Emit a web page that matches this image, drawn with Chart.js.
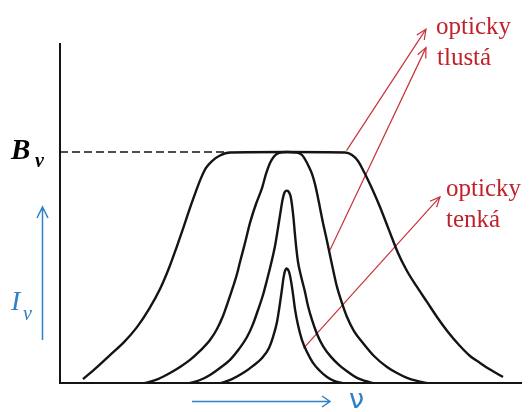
<!DOCTYPE html>
<html>
<head>
<meta charset="utf-8">
<script src="https://cdn.jsdelivr.net/npm/chart.js@4.4.1/dist/chart.umd.min.js"></script>
<style>
  html, body { margin: 0; padding: 0; background: #fff; }
  canvas { display: block; }
</style>
</head>
<body>
<canvas id="grafSpektra" width="529" height="412"></canvas>
<script>
// frekvence relativne ke stredu cary, intenzita v jednotkach B_v
const nu1 = [-4.08, -3.80, -3.54, -3.26, -3.00, -2.76, -2.54, -2.36, -2.20, -2.06, -1.94, -1.82, -1.72, -1.62, -1.50, -1.34, -1.14, 0, 1.16, 1.30, 1.42, 1.52, 1.62, 1.74, 1.86, 2.04, 2.22, 2.40, 2.60, 2.80, 3.00, 3.22, 3.46, 3.66, 3.86, 4.08, 4.32];
const I1  = [0.017, 0.069, 0.121, 0.177, 0.242, 0.320, 0.407, 0.498, 0.593, 0.680, 0.758, 0.831, 0.887, 0.931, 0.961, 0.985, 0.998, 1.0, 0.998, 0.987, 0.961, 0.922, 0.879, 0.823, 0.762, 0.662, 0.563, 0.485, 0.416, 0.351, 0.286, 0.221, 0.160, 0.117, 0.087, 0.056, 0.026];

const nu2 = [-2.84, -2.58, -2.34, -2.14, -1.94, -1.74, -1.54, -1.40, -1.28, -1.18, -1.08, -1.00, -0.94, -0.84, -0.74, -0.62, -0.50, -0.42, -0.34, -0.26, -0.16, 0, 0.20, 0.30, 0.38, 0.44, 0.50, 0.56, 0.60, 0.66, 0.72, 0.80, 0.88, 0.94, 1.00, 1.10, 1.20, 1.34, 1.52, 1.74, 2.00, 2.20, 2.40, 2.60, 2.80];
const I2  = [0, 0.017, 0.043, 0.069, 0.100, 0.139, 0.186, 0.234, 0.290, 0.351, 0.416, 0.472, 0.524, 0.606, 0.693, 0.775, 0.844, 0.905, 0.952, 0.981, 0.996, 1.0, 0.998, 0.987, 0.961, 0.935, 0.905, 0.861, 0.823, 0.758, 0.693, 0.615, 0.532, 0.472, 0.416, 0.346, 0.286, 0.225, 0.173, 0.117, 0.069, 0.043, 0.022, 0.009, 0];

const nu3 = [-1.94, -1.74, -1.54, -1.34, -1.14, -0.96, -0.80, -0.68, -0.58, -0.48, -0.40, -0.32, -0.24, -0.18, -0.13, -0.09, -0.05, -0.01, 0.03, 0.07, 0.10, 0.13, 0.16, 0.19, 0.22, 0.28, 0.36, 0.42, 0.50, 0.60, 0.72, 0.88, 1.06, 1.22, 1.40, 1.56, 1.72];
const I3  = [0, 0.013, 0.035, 0.065, 0.100, 0.147, 0.199, 0.255, 0.316, 0.381, 0.446, 0.515, 0.593, 0.671, 0.740, 0.792, 0.825, 0.833, 0.829, 0.810, 0.771, 0.714, 0.641, 0.576, 0.524, 0.463, 0.394, 0.333, 0.273, 0.212, 0.160, 0.113, 0.074, 0.048, 0.022, 0.009, 0];

const nu4 = [-1.32, -1.10, -0.88, -0.68, -0.48, -0.36, -0.28, -0.20, -0.14, -0.10, -0.07, -0.04, -0.01, 0.02, 0.05, 0.08, 0.12, 0.16, 0.22, 0.30, 0.40, 0.52, 0.66, 0.80, 0.94, 1.10];
const I4  = [0, 0.017, 0.043, 0.074, 0.113, 0.152, 0.199, 0.264, 0.346, 0.407, 0.455, 0.485, 0.496, 0.491, 0.474, 0.442, 0.385, 0.320, 0.251, 0.186, 0.134, 0.087, 0.052, 0.026, 0.009, 0];

// uroven B_v (prerusovana cara)
const nuB = [-4.54, -1.25];
const IB  = [1.0, 1.0];

// sipky k popiskum: [zacatek, konec]
const nuTlusta1 = [1.19, 2.78];
const ITlusta1  = [1.006, 1.532];
const nuTlusta2 = [0.86, 2.78];
const ITlusta2  = [0.576, 1.452];
const nuTenka = [0.33, 3.06];
const ITenka  = [0.150, 0.806];

function body(xs, ys) {
    return xs.map((x, i) => ({ x: x, y: ys[i] }));
}

const cerna = '#141414';
const cervena = '#c8323a';
const modra = '#2f80c4';

function krivka(xs, ys) {
    return {
        data: body(xs, ys),
        borderColor: cerna,
        borderWidth: 2.4,
        pointRadius: 0,
        cubicInterpolationMode: 'monotone',
        fill: false
    };
}

function sipka(xs, ys) {
    return {
        data: body(xs, ys),
        borderColor: cervena,
        borderWidth: 1.2,
        pointRadius: 0,
        clip: false,
        sipka: true
    };
}

// osy podle chartArea
const osyPlugin = {
    id: 'osy',
    beforeDatasetsDraw(chart) {
        const a = chart.chartArea;
        const ctx = chart.ctx;
        ctx.save();
        ctx.strokeStyle = cerna;
        ctx.lineWidth = 2;
        ctx.beginPath();
        ctx.moveTo(a.left, a.top);
        ctx.lineTo(a.left, a.bottom);
        ctx.lineTo(a.right, a.bottom);
        ctx.stroke();
        ctx.restore();
    }
};

// hroty cervenych sipek
const hrotyPlugin = {
    id: 'hroty',
    afterDatasetsDraw(chart) {
        const ctx = chart.ctx;
        chart.data.datasets.forEach((ds, i) => {
            if (!ds.sipka) return;
            const pts = chart.getDatasetMeta(i).data;
            const a = pts[pts.length - 2], b = pts[pts.length - 1];
            const ang = Math.atan2(b.y - a.y, b.x - a.x);
            const d = 11, w = 0.42;
            ctx.save();
            ctx.strokeStyle = ds.borderColor;
            ctx.lineWidth = ds.borderWidth;
            ctx.beginPath();
            ctx.moveTo(b.x - d * Math.cos(ang - w), b.y - d * Math.sin(ang - w));
            ctx.lineTo(b.x, b.y);
            ctx.lineTo(b.x - d * Math.cos(ang + w), b.y - d * Math.sin(ang + w));
            ctx.stroke();
            ctx.restore();
        });
    }
};

// popisky a modre sipky u os
const popiskyPlugin = {
    id: 'popisky',
    afterDraw(chart) {
        const ctx = chart.ctx;
        const yB = chart.scales.y.getPixelForValue(1.0);
        ctx.save();
        ctx.textBaseline = 'alphabetic';

        // B_v
        ctx.fillStyle = '#000';
        ctx.font = 'italic bold 29px "Liberation Serif"';
        ctx.fillText('B', 11, yB + 7);
        ctx.font = 'italic bold 20px "Liberation Serif"';
        ctx.fillText('v', 35, yB + 15);

        // I_v
        ctx.fillStyle = modra;
        ctx.font = 'italic 28px "Liberation Serif"';
        ctx.fillText('I', 11, 310);
        ctx.font = 'italic 20px "Liberation Serif"';
        ctx.fillText('v', 23, 320);

        ctx.strokeStyle = modra;
        ctx.lineWidth = 1.5;
        ctx.beginPath();
        ctx.moveTo(42.5, 340); ctx.lineTo(42.5, 207);
        ctx.moveTo(37, 218); ctx.lineTo(42.5, 207); ctx.lineTo(48, 218);
        ctx.moveTo(192, 401.5); ctx.lineTo(330, 401.5);
        ctx.moveTo(322, 396); ctx.lineTo(330, 401.5); ctx.lineTo(322, 407);
        ctx.stroke();

        ctx.font = '27px "DejaVu Sans"';
        ctx.fillText('\u03bd', 349, 408);

        // cervene popisky
        ctx.fillStyle = '#c0222c';
        ctx.font = '25px "Liberation Serif"';
        ctx.fillText('opticky', 436, 34);
        ctx.fillText('tlustá', 437, 65);
        ctx.fillText('opticky', 446, 196);
        ctx.fillText('tenká', 446, 227);
        ctx.restore();
    }
};

const ctx = document.getElementById('grafSpektra').getContext('2d');
new Chart(ctx, {
    type: 'line',
    data: {
        datasets: [
            krivka(nu1, I1),
            krivka(nu2, I2),
            krivka(nu3, I3),
            krivka(nu4, I4),
            {
                data: body(nuB, IB),
                borderColor: cerna,
                borderWidth: 1.5,
                borderDash: [8, 4],
                pointRadius: 0
            },
            sipka(nuTlusta1, ITlusta1),
            sipka(nuTlusta2, ITlusta2),
            sipka(nuTenka, ITenka)
        ]
    },
    options: {
        responsive: false,
        animation: false,
        layout: { padding: { left: 60, right: 7, top: 43, bottom: 29 } },
        plugins: {
            legend: { display: false },
            tooltip: { enabled: false }
        },
        scales: {
            x: { type: 'linear', display: false, min: -4.54, max: 4.7 },
            y: { display: false, min: 0, max: 1.472 }
        }
    },
    plugins: [osyPlugin, hrotyPlugin, popiskyPlugin]
});
</script>
</body>
</html>
